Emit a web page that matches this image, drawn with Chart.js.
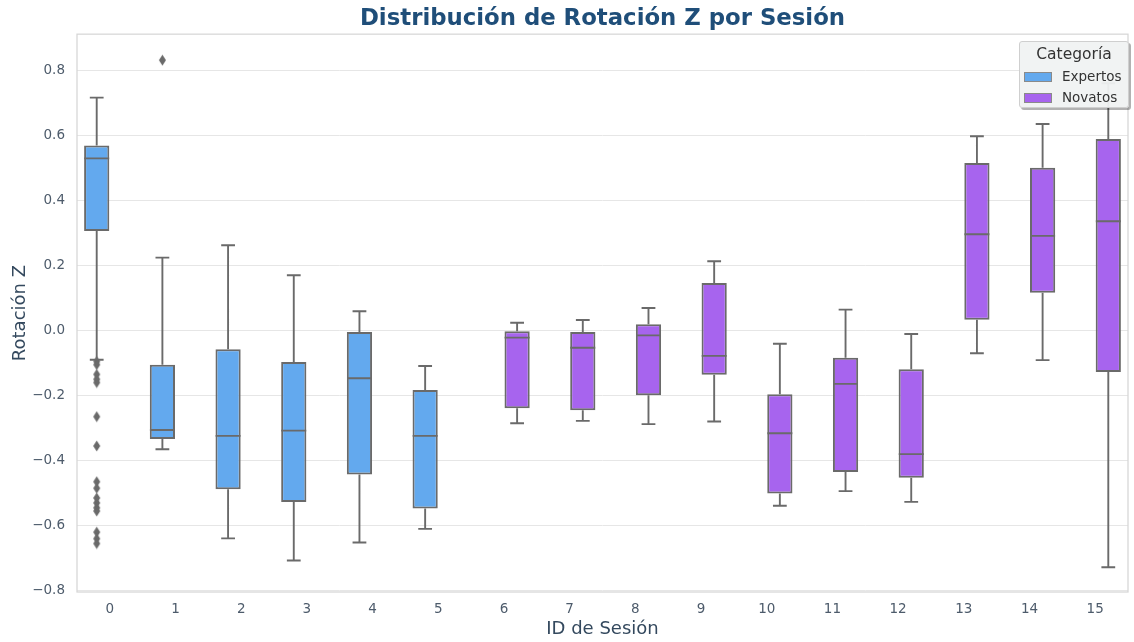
<!DOCTYPE html>
<html><head><meta charset="utf-8">
<script src="https://cdn.jsdelivr.net/npm/chart.js@4/dist/chart.umd.min.js"></script>
<style>
html,body{margin:0;padding:0;background:#fff;}
#wrap{position:relative;width:1134px;height:642px;font-family:"DejaVu Sans",sans-serif;}
#legend{position:absolute;left:1019px;top:41px;width:110px;height:67px;background:rgba(240,242,242,0.95);border:1px solid #cfcfcf;border-radius:3px;box-shadow:2px 2px 0 rgba(0,0,0,0.3);box-sizing:border-box;color:#333;}
#legend .t{position:absolute;left:0;right:0;top:3px;text-align:center;font-size:15.5px;}
#legend .r{position:absolute;left:4px;font-size:13.5px;line-height:16px;}
#legend .sw{display:inline-block;width:28px;height:10px;border:1px solid #8a8a8a;box-sizing:border-box;vertical-align:-1px;margin-right:10px;}
</style></head>
<body><div id="wrap"><canvas id="c" width="1134" height="642"></canvas>
<div id="legend"><div class="t">Categoría</div>
<div class="r" style="top:26px"><span class="sw" style="background:#63a9ee"></span>Expertos</div>
<div class="r" style="top:47px"><span class="sw" style="background:#a764ee"></span>Novatos</div></div></div>
<script>
const sessions = ['0','1','2','3','4','5','6','7','8','9','10','11','12','13','14','15'];
const category = ['E','E','E','E','E','E','N','N','N','N','N','N','N','N','N','N'];
const whiskerHigh = [0.716, 0.224, 0.262, 0.170, 0.059, -0.109, 0.024, 0.032, 0.069, 0.213, -0.041, 0.064, -0.011, 0.597, 0.635, 0.76];
const q3 = [0.569, -0.105, -0.058, -0.097, -0.005, -0.183, -0.002, -0.005, 0.019, 0.146, -0.196, -0.084, -0.119, 0.515, 0.500, 0.589];
const median = [0.529, -0.306, -0.324, -0.308, -0.147, -0.324, -0.022, -0.053, -0.015, -0.078, -0.316, -0.164, -0.380, 0.296, 0.291, 0.336];
const q1 = [0.306, -0.334, -0.488, -0.527, -0.443, -0.547, -0.239, -0.245, -0.199, -0.136, -0.501, -0.435, -0.453, 0.033, 0.116, -0.128];
const whiskerLow = [-0.090, -0.365, -0.639, -0.707, -0.652, -0.610, -0.285, -0.278, -0.288, -0.280, -0.539, -0.494, -0.527, -0.070, -0.091, -0.728];
const outliers0 = [-0.095, -0.105, -0.135, -0.150, -0.160, -0.265, -0.355, -0.465, -0.485, -0.515, -0.530, -0.545, -0.555, -0.620, -0.640, -0.655];
const outliers1 = [0.831];
const yTicks = [-0.8, -0.6, -0.4, -0.2, 0.0, 0.2, 0.4, 0.6, 0.8];

const GRAY = '#6a6a6a';
const DODGE = 0.2, HALF = 0.19, CAP = 0.105;
const pos = i => i + (category[i] === 'E' ? -DODGE : DODGE);

const boxesE = [], boxesN = [], whiskers = [], caps = [], meds = [];
sessions.forEach((s, i) => {
  const p = pos(i);
  (category[i] === 'E' ? boxesE : boxesN).push({x: p, y: [q1[i], q3[i]]});
  whiskers.push({x: p, y: whiskerHigh[i]}, {x: p, y: q3[i]}, {x: p, y: null});
  whiskers.push({x: p, y: q1[i]}, {x: p, y: whiskerLow[i]}, {x: p, y: null});
  caps.push({x: p - CAP, y: whiskerHigh[i]}, {x: p + CAP, y: whiskerHigh[i]}, {x: p, y: null});
  caps.push({x: p - CAP, y: whiskerLow[i]}, {x: p + CAP, y: whiskerLow[i]}, {x: p, y: null});
  meds.push({x: p - HALF, y: median[i]}, {x: p + HALF, y: median[i]}, {x: p, y: null});
});
const outlierPts = outliers0.map(v => ({x: pos(0), y: v})).concat(outliers1.map(v => ({x: pos(1), y: v})));

const dia = document.createElement('canvas');
dia.width = 9; dia.height = 12;
(function(){const g = dia.getContext('2d'); g.fillStyle = GRAY; g.beginPath(); g.moveTo(4.5,0.5); g.lineTo(8,6); g.lineTo(4.5,11.5); g.lineTo(1,6); g.closePath(); g.fill();})();

const frame = {id:'frame', beforeDatasetsDraw(chart){const {ctx, chartArea:a} = chart; ctx.save(); ctx.strokeStyle = '#d6d6d6'; ctx.lineWidth = 1.25; ctx.strokeRect(a.left, a.top, a.right - a.left, a.bottom - a.top); ctx.restore();}};

const lineDs = (data, w) => ({type:'line', data, borderColor:GRAY, borderWidth:w, pointRadius:0, spanGaps:false, fill:false, order:0});
const boxDs = (label, data, color) => ({label, data, backgroundColor:color, borderColor:GRAY, borderWidth:2, borderSkipped:false, grouped:false, categoryPercentage:0.4, barPercentage:0.96, order:2});

new Chart(document.getElementById('c'), {
  type:'bar',
  data:{datasets:[
    boxDs('Expertos', boxesE, '#63a9ee'),
    boxDs('Novatos', boxesN, '#a764ee'),
    lineDs(whiskers, 1.9), lineDs(caps, 1.9), lineDs(meds, 1.9),
    {type:'scatter', data:outlierPts, pointStyle:dia, pointRadius:5, order:0}
  ]},
  options:{
    responsive:false, animation:false, devicePixelRatio:1,
    layout:{padding:{left:0,right:1,top:0,bottom:0}},
    plugins:{
      legend:{display:false}, tooltip:{enabled:false},
      title:{display:true, fullSize:false, text:'Distribución de Rotación Z por Sesión', color:'#1f4e79', font:{family:'DejaVu Sans', size:22.8, weight:'bold', lineHeight:1.2}, padding:{top:5.3,bottom:1.5}}
    },
    scales:{
      x:{type:'linear', min:-0.5, max:15.5, offset:false, grid:{display:false, drawTicks:false, offset:false}, border:{display:false},
         afterBuildTicks(s){s.ticks = sessions.map((t,i)=>({value:i}));},
         ticks:{color:'#4d5b6b', font:{family:'DejaVu Sans', size:13.5}, padding:9, autoSkip:false, maxRotation:0, callback:v=>sessions[v]},
         title:{display:true, text:'ID de Sesión', color:'#34495e', font:{family:'DejaVu Sans', size:18}, padding:{top:0,bottom:2}},
         afterFit(s){s.height = 50;}},
      y:{type:'linear', min:-0.804, max:0.911,
         grid:{color:'#e6e6e6', lineWidth:1, drawTicks:false}, border:{display:false},
         afterBuildTicks(s){s.ticks = yTicks.map(v=>({value:v}));},
         ticks:{color:'#4d5b6b', font:{family:'DejaVu Sans', size:13.5}, padding:12, callback:v=>(v<0?'\u2212':'')+Math.abs(v).toFixed(1)},
         title:{display:true, text:'Rotación Z', color:'#34495e', font:{family:'DejaVu Sans', size:18}, padding:{top:10,bottom:0}},
         afterFit(s){s.width = 77;}}
    }
  },
  plugins:[frame]
});
</script></body></html>
